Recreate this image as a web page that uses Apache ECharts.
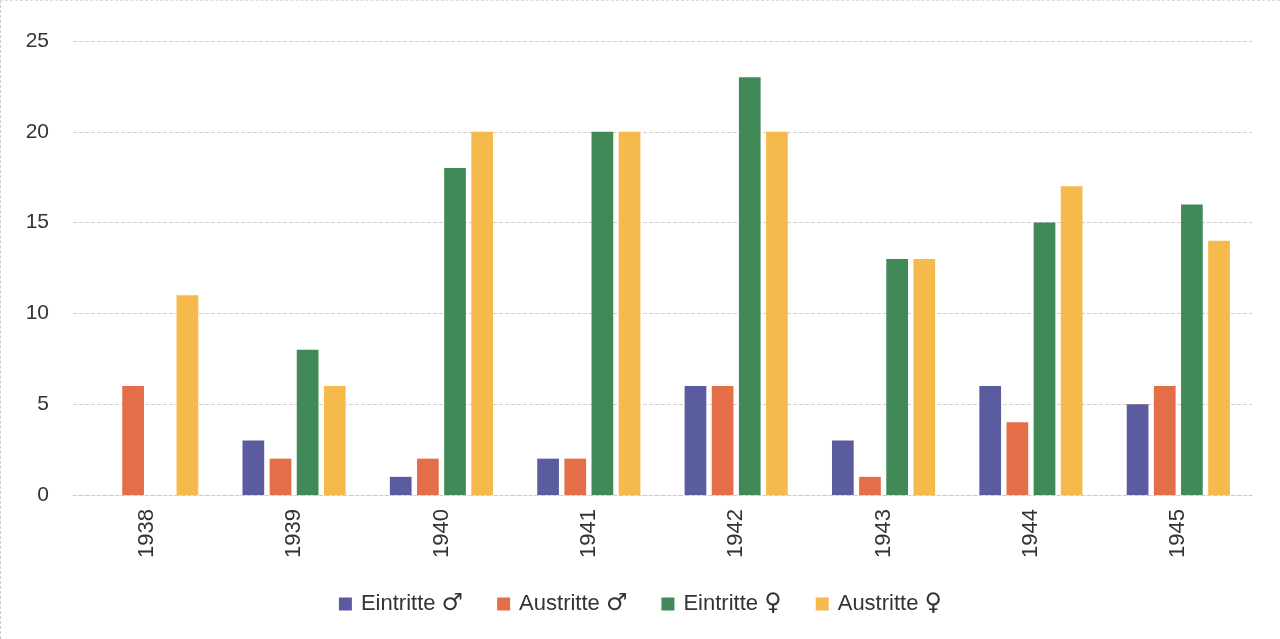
<!DOCTYPE html>
<html lang="de">
<head>
<meta charset="utf-8">
<title>Eintritte und Austritte 1938–1945</title>
<script src="https://cdn.jsdelivr.net/npm/echarts@6/dist/echarts.min.js"></script>
<style>
  html, body { margin: 0; padding: 0; background: #fff; }
  #main { width: 1280px; height: 639px; box-sizing: border-box; border-left: 1px dashed #ccc; border-top: 1px dashed #ddd; }
</style>
</head>
<body>
<div id="main"></div>
<script>
// Daten
var years = ['1938', '1939', '1940', '1941', '1942', '1943', '1944', '1945'];
var eintritteM = [0, 3, 1, 2, 6, 3, 6, 5];
var austritteM = [6, 2, 2, 2, 6, 1, 4, 6];
var eintritteW = [0, 8, 18, 20, 23, 13, 15, 16];
var austritteW = [11, 6, 20, 20, 20, 13, 17, 14];

var chart = echarts.init(document.getElementById('main'));

function bar(name, data, color) {
    return {
        name: name,
        type: 'bar',
        data: data,
        barGap: '25%',
        barCategoryGap: '30%',
        itemStyle: { color: color }
    };
}

var option = {
    textStyle: { fontFamily: '"Liberation Sans", "DejaVu Sans", sans-serif' },
    grid: { left: 72, right: 28, top: 40, bottom: 144 },
    legend: {
        bottom: 18,
        left: 'center',
        itemWidth: 13,
        itemHeight: 13,
        itemGap: 34,
        icon: 'rect',
        textStyle: {
            fontSize: 22,
            color: '#333',
            padding: [0, 0, 0, 4],
            rich: {
                s: { fontFamily: '"DejaVu Sans"', fontSize: 24, color: '#333' }
            }
        },
        // Geschlechtssymbol etwas größer setzen
        formatter: function (name) {
            var p = name.split(' ');
            return p[0] + ' {s|' + p[1] + '}';
        },
        data: ['Eintritte ♂', 'Austritte ♂', 'Eintritte ♀', 'Austritte ♀']
    },
    xAxis: {
        type: 'category',
        data: years,
        axisLine: { lineStyle: { color: '#ccc', type: 'dashed' } },
        axisTick: { show: false },
        axisLabel: { rotate: 90, fontSize: 22, color: '#333', margin: 14 }
    },
    yAxis: {
        type: 'value',
        min: 0,
        max: 25,
        interval: 5,
        axisLine: { show: false },
        axisTick: { show: false },
        axisLabel: { fontSize: 21, color: '#333', margin: 24 },
        splitLine: { lineStyle: { color: '#d9cccc', type: 'dashed' } }
    },
    series: [
        bar('Eintritte ♂', eintritteM, '#5a5c9f'),
        bar('Austritte ♂', austritteM, '#e36e47'),
        bar('Eintritte ♀', eintritteW, '#418a58'),
        bar('Austritte ♀', austritteW, '#f6b94c')
    ]
};

chart.setOption(option);
</script>
</body>
</html>
